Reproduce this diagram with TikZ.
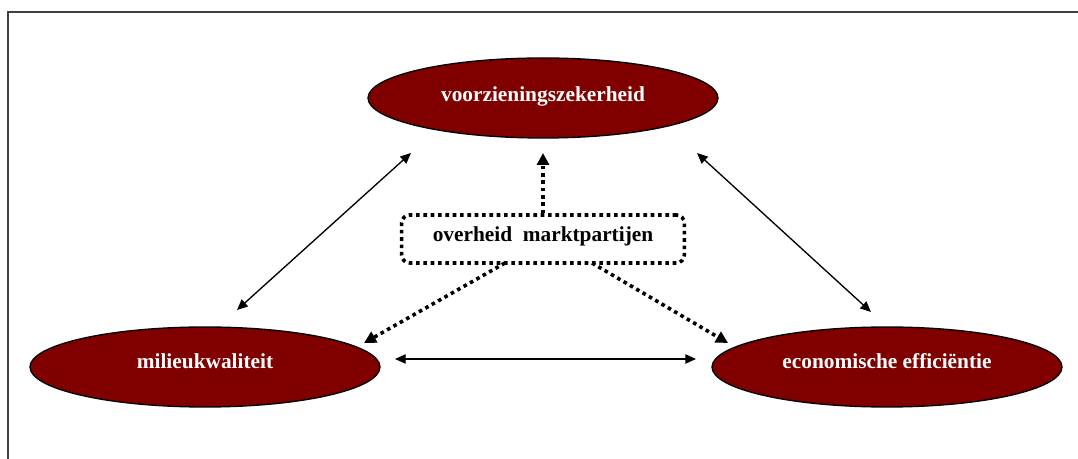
\documentclass[tikz,border=0pt]{standalone}
\usepackage{fontspec}
\setmainfont{Liberation Serif}
\usetikzlibrary{shapes.geometric,arrows.meta}
\definecolor{maroon}{HTML}{800000}
\tikzset{
  goal/.style={ellipse, draw=black, line width=1pt, fill=maroon, text=white,
    font=\fontsize{16}{19}\selectfont\bfseries, minimum width=262.5pt,
    minimum height=60pt, inner sep=0pt, text height=12pt, text depth=10pt},
  actors/.style={rectangle, rounded corners=6pt, draw=black, line width=2.7pt,
    dash pattern=on 2.7pt off 2.8pt, minimum width=212pt, minimum height=36pt,
    inner sep=0pt, font=\fontsize{16}{19}\selectfont\bfseries,
    text height=12pt, text depth=8pt},
  link/.style={line width=1pt, {Triangle[length=8pt,width=7pt]}-{Triangle[length=8pt,width=7pt]}},
  influence/.style={line width=2.7pt, dash pattern=on 2.7pt off 2.8pt,
    -{Triangle[length=9pt,width=9pt]}},
}
\begin{document}
\begin{tikzpicture}[x=0.75pt,y=-0.75pt]
  \useasboundingbox (0,0) rectangle (1078,459);
  \clip (0,0) rectangle (1078,459);
  % outer frame, running past the lower and right edges
  \draw[line width=1.1pt, black!75] (8,12) rectangle (1100,480);

  % the three goals
  \node[goal, text depth=6pt] (vz) at (543,98) {voorzieningszekerheid};
  \node[goal] (mk) at (205,367) {milieukwaliteit};
  \node[goal] (ee) at (887,367) {economische efficiëntie};

  % the actors in the middle
  \node[actors] (om) at (543,239) {overheid\ \ marktpartijen};

  % ends of the mutual relations
  \coordinate (l1) at (237,310);
  \coordinate (l2) at (411,153);
  \coordinate (r1) at (697,153);
  \coordinate (r2) at (871,312);
  \coordinate (h1) at (395,359);
  \coordinate (h2) at (696,359);
  \draw[link] (l1) -- (l2);
  \draw[link] (r1) -- (r2);
  \draw[link] (h1) -- (h2);

  % influence of the actors on the goals
  \coordinate (ut) at (543,153);
  \coordinate (lb) at (505,263);
  \coordinate (lt) at (364,343);
  \coordinate (rb) at (592,263);
  \coordinate (rt) at (728,343);
  \draw[influence] (om.north) -- (ut);
  \draw[influence] (lb) -- (lt);
  \draw[influence] (rb) -- (rt);
\end{tikzpicture}
\end{document}
